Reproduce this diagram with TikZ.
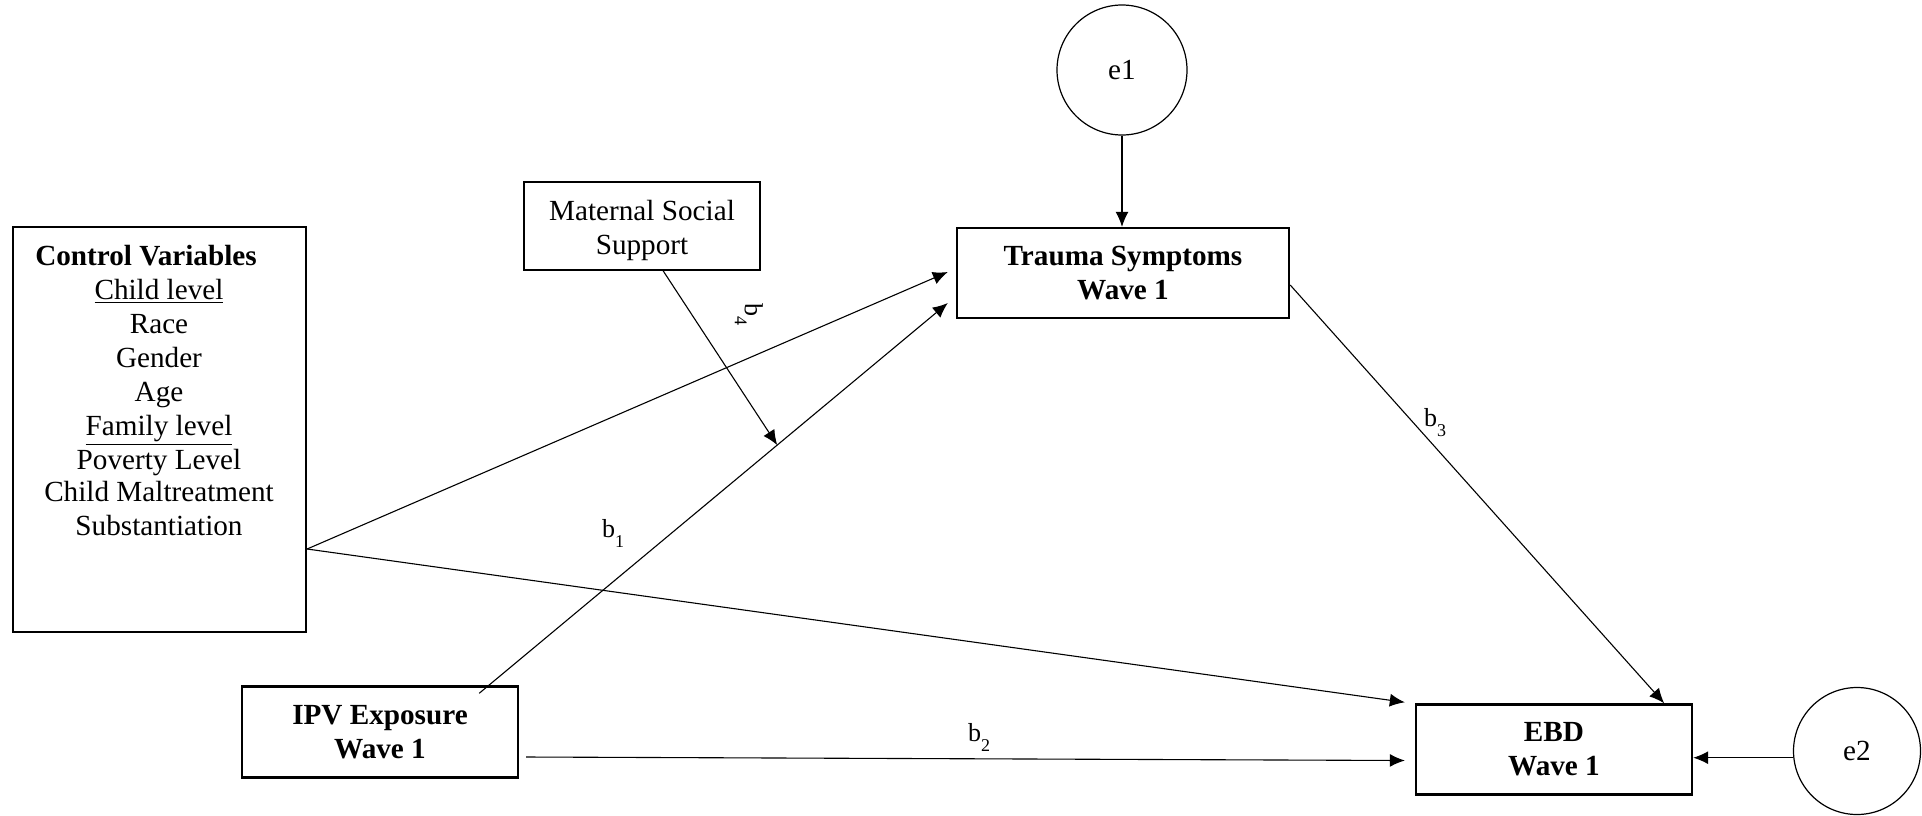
\documentclass[tikz,border=0pt]{standalone}
\usepackage{fontspec}
\setmainfont{Liberation Serif}
\usetikzlibrary{arrows.meta,calc}
\newcommand\bsub[1]{b\raisebox{-5pt}{\fontsize{9}{9}\selectfont #1}}
\begin{document}
\begin{tikzpicture}[x=0.5pt,y=-0.5pt,
  txt/.style={font=\fontsize{14.6}{17}\selectfont, inner sep=0pt},
  line/.style={txt, text height=10pt, text depth=3pt},
  varbox/.style={draw, line width=1.2pt, inner sep=0pt, align=center,
    font=\fontsize{14.6}{17}\selectfont\bfseries},
  errc/.style={draw, circle, line width=0.6pt, inner sep=0pt,
    font=\fontsize{14.6}{17}\selectfont},
  pathline/.style={-{Latex[length=7.5pt,width=6.5pt]}, line width=0.55pt},
  lbl/.style={font=\fontsize{13}{13}\selectfont, inner sep=0pt}]
\useasboundingbox (0,0) rectangle (1922,815);

% control variables block
\node[draw, line width=1.1pt, minimum width=146.5pt, minimum height=202.5pt, inner sep=0pt] (ctrl) at (159.5,429.5) {};
\node[line, font=\fontsize{14.6}{17}\selectfont\bfseries] (ctitle) at (146,258) {Control Variables};
\foreach \t/\y [count=\i] in {{\underline{Child level}}/292, Race/326, Gender/360, Age/394,
    {\underline{Family level}}/428, Poverty Level/462, Child Maltreatment/494, Substantiation/528}
  \node[line] (cv\i) at (159,\y) {\t};

% moderator
\node[draw, line width=0.6pt, minimum width=118pt, minimum height=44pt, inner sep=0pt] (mss) at (642,226) {};
\node[txt, align=center] (msstext) at (642,230) {Maternal Social\\Support};

% observed variables
\node[varbox, minimum width=166pt, minimum height=45pt] (trauma) at (1123,273) {Trauma Symptoms\\Wave 1};
\node[varbox, minimum width=138pt, minimum height=45pt] (ebd) at (1554,749.5) {EBD\\Wave 1};
\node[varbox, minimum width=138pt, minimum height=45.5pt] (ipv) at (380,732) {IPV Exposure\\Wave 1};

% error terms
\node[errc, minimum size=65pt] (e1) at (1122,70) {e1};
\node[errc, minimum size=63.5pt] (e2) at (1857,751) {e2};

% connector end points
\coordinate (ctrlout) at ($(ctrl.east)+(0,119.5)$);
\coordinate (trIn1) at ($(trauma.west)+(-8,-1)$);
\coordinate (trIn2) at ($(trauma.west)+(-8,30)$);
\coordinate (ipvOut1) at ($(ipv.north east)+(-40,8)$);
\coordinate (ipvOut2) at ($(ipv.east)+(7,25)$);
\coordinate (ebdIn1) at ($(ebd.north west)+(-10,-1)$);
\coordinate (ebdIn2) at ($(ebd.west)+(-10,11)$);
\coordinate (trOut) at ($(trauma.east)+(0,12)$);
\coordinate (ebdIn3) at ($(ebd.north east)+(-29,0)$);
\coordinate (mssOut) at ($(mss.south)+(21,0)$);
\coordinate (mod) at ($(ipvOut1)!0.636!(trIn2)$);

% paths
\draw[pathline] (ctrlout) -- (trIn1);
\draw[pathline] (ctrlout) -- (ebdIn1);
\draw[pathline] (ipvOut1) -- (trIn2);
\draw[pathline] (ipvOut2) -- (ebdIn2);
\draw[pathline] (trOut) -- (ebdIn3);
\draw[pathline] (mssOut) -- (mod);
\draw[pathline] (e1.south) -- (e1.south |- trauma.north);
\draw[pathline] (e2.186) -- (e2.186 -| ebd.east);

% path labels
\node[lbl] (b1) at (613,533) {\bsub{1}};
\node[lbl] (b2) at (979,737) {\bsub{2}};
\node[lbl] (b3) at (1435,423) {\bsub{3}};
\node[lbl, rotate=-90] (b4) at (749,314) {\bsub{4}};
\end{tikzpicture}
\end{document}
